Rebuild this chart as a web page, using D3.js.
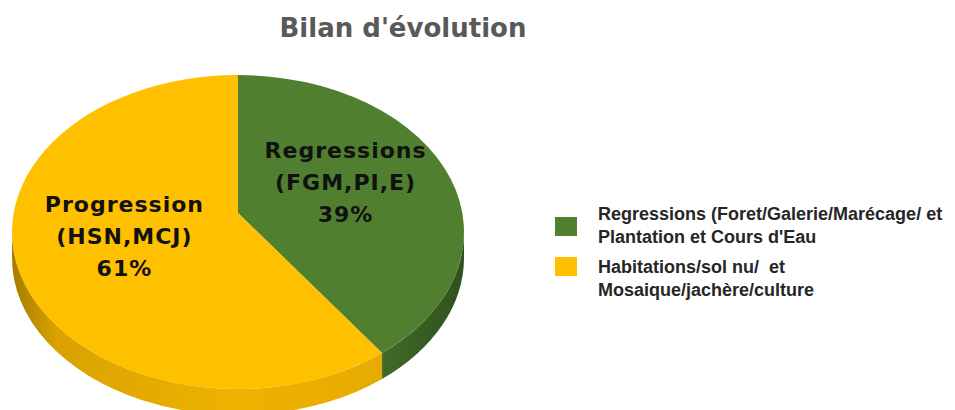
<!DOCTYPE html>
<html>
<head>
<meta charset="utf-8">
<script src="https://cdn.jsdelivr.net/npm/d3@7"></script>
<style>
  body { margin: 0; background: #fff; }
  svg { display: block; }
</style>
</head>
<body>
<div id="container"></div>
<script>
/* DATA */
const categories = ["Regressions", "Progression"];
const values = [39, 61];
const sliceLabels = [["Regressions", "(FGM,PI,E)", "39%"], ["Progression", "(HSN,MCJ)", "61%"]];
const legendLabels = [
  ["Regressions (Foret/Galerie/Marécage/ et", "Plantation et Cours d'Eau"],
  ["Habitations/sol nu/  et", "Mosaique/jachère/culture"]
];
const title = "Bilan d'évolution";

/* CONSTANTS */
const width = 955, height = 410;
const cx = 238, cy = 232, rx = 226, ry = 157, depth = 26;
const apex = [238, 213];

const topColor = d3.scaleOrdinal().domain(categories).range(["#507f30", "#ffc000"]);
const sideColor = d3.scaleOrdinal().domain(categories).range(["url(#gSide0)", "url(#gSide1)"]);

const svg = d3.select("#container").append("svg")
  .attr("width", width)
  .attr("height", height);

// gradients for the side walls
const defs = svg.append("defs");
const g0 = defs.append("linearGradient").attr("id", "gSide0").attr("x1", 0).attr("x2", 1).attr("y1", 0).attr("y2", 0);
g0.append("stop").attr("offset", "0%").attr("stop-color", "#41692a");
g0.append("stop").attr("offset", "100%").attr("stop-color", "#2f521c");
const g1 = defs.append("linearGradient").attr("id", "gSide1").attr("x1", 0).attr("x2", 1).attr("y1", 0).attr("y2", 0);
g1.append("stop").attr("offset", "0%").attr("stop-color", "#a67c00");
g1.append("stop").attr("offset", "12%").attr("stop-color", "#d9a200");
g1.append("stop").attr("offset", "60%").attr("stop-color", "#eeb300");
g1.append("stop").attr("offset", "100%").attr("stop-color", "#e6ab00");

const pie = d3.pie().sort(null).value(d => d.value);
const arcs = pie(categories.map((c, i) => ({ cat: c, value: values[i], i })));

const pt = (a, dy = 0) => [cx + rx * Math.sin(a), cy - ry * Math.cos(a) + dy];

// side wall: only the front half (PI/2 .. 3PI/2) shows
const sidePath = (a0, a1) => {
  const s = Math.max(a0, Math.PI / 2), e = Math.min(a1, 3 * Math.PI / 2);
  if (e <= s) return null;
  const p0 = pt(s), p1 = pt(e), q1 = pt(e, depth), q0 = pt(s, depth);
  const large = (e - s) > Math.PI ? 1 : 0;
  return `M${p0}A${rx},${ry} 0 ${large} 1 ${p1}L${q1}A${rx},${ry} 0 ${large} 0 ${q0}Z`;
};

const topPath = (a0, a1) => {
  const p0 = pt(a0), p1 = pt(a1);
  const large = (a1 - a0) > Math.PI ? 1 : 0;
  return `M${apex}L${p0}A${rx},${ry} 0 ${large} 1 ${p1}Z`;
};

svg.append("g").attr("class", "sides")
  .selectAll("path")
  .data(arcs.filter(d => sidePath(d.startAngle, d.endAngle)))
  .join("path")
  .attr("d", d => sidePath(d.startAngle, d.endAngle))
  .attr("fill", d => sideColor(d.data.cat));

svg.append("g").attr("class", "tops")
  .selectAll("path")
  .data(arcs)
  .join("path")
  .attr("d", d => topPath(d.startAngle, d.endAngle))
  .attr("fill", d => topColor(d.data.cat));

// slice labels
const labelG = svg.append("g").attr("class", "labels")
  .selectAll("text")
  .data(arcs)
  .join("text")
  .attr("text-anchor", "middle")
  .attr("font-family", "DejaVu Sans")
  .attr("font-weight", "bold")
  .attr("font-size", 22)
  .attr("letter-spacing", 1)
  .attr("fill", "#111")
  .attr("transform", d => {
    const a = (d.startAngle + d.endAngle) / 2;
    const x = apex[0] + 0.52 * rx * Math.sin(a) - 3;
    const y = apex[1] - 0.5 * ry * Math.cos(a);
    return `translate(${x},${y})`;
  });

labelG.selectAll("tspan")
  .data(d => sliceLabels[d.data.i])
  .join("tspan")
  .attr("x", 0)
  .attr("y", (d, i) => (i - 1) * 32 + 4)
  .text(d => d);

// title
svg.append("text")
  .attr("x", 403)
  .attr("y", 37)
  .attr("text-anchor", "middle")
  .attr("font-family", "DejaVu Sans")
  .attr("font-weight", "bold")
  .attr("font-size", 26)
  .attr("fill", "#595959")
  .text(title);

// legend
const legend = svg.append("g").attr("class", "legend")
  .selectAll("g")
  .data(categories)
  .join("g");

legend.append("rect")
  .attr("x", 555)
  .attr("y", (d, i) => 217 + i * 40)
  .attr("width", 22)
  .attr("height", 19)
  .attr("fill", d => topColor(d));

legend.append("text")
  .attr("font-family", "Liberation Sans, Arial")
  .attr("font-weight", "bold")
  .attr("font-size", 18)
  .attr("fill", "#262626")
  .attr("transform", (d, i) => `translate(598, ${220 + i * 53})`)
  .selectAll("tspan")
  .data((d, i) => legendLabels[i])
  .join("tspan")
  .attr("x", 0)
  .attr("y", (d, i) => i * 23)
  .attr("xml:space", "preserve")
  .text(d => d);
</script>
</body>
</html>
